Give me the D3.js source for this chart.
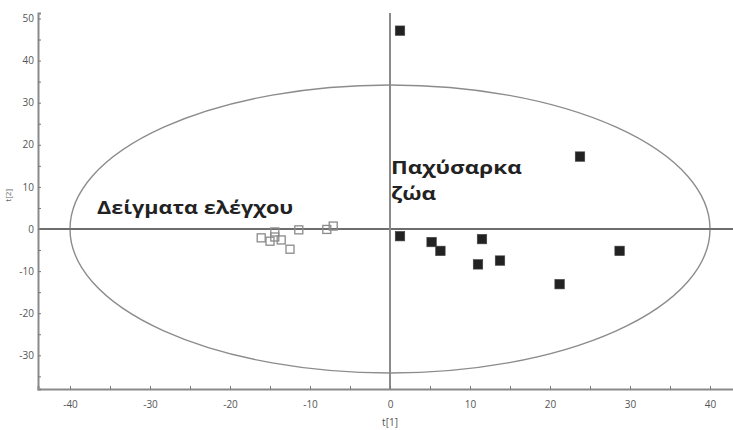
<!DOCTYPE html>
<html><head><meta charset="utf-8">
<script src="https://cdn.jsdelivr.net/npm/d3@7"></script>
<style>body{margin:0;background:#fff}svg{display:block}</style>
</head><body>
<svg id="c" width="733" height="430"></svg>
<script>
const controlX = [-16.1, -15.0, -14.4, -14.4, -13.6, -12.5, -11.4, -7.9, -7.1];
const controlY = [-2.1, -2.9, -0.7, -1.9, -2.6, -4.8, -0.2, -0.1, 0.7];
const obeseX = [1.25, 23.75, 1.25, 5.2, 6.3, 11.5, 11.0, 13.75, 21.2, 28.7];
const obeseY = [47.1, 17.2, -1.7, -3.1, -5.2, -2.4, -8.4, -7.5, -13.1, -5.2];
const xTicks = [-40, -30, -20, -10, 0, 10, 20, 30, 40];
const yTicks = [-30, -20, -10, 0, 10, 20, 30, 40, 50];
const ellipseRx = 40, ellipseRy = 34.2;
const labelControl = "Δείγματα ελέγχου";
const labelObese = ["Παχύσαρκα", "ζώα"];
const xTitle = "t[1]", yTitle = "t[2]";

const svg = d3.select("#c");
const x = d3.scaleLinear().domain([-44, 43]).range([38, 734]);
const y = d3.scaleLinear().domain([-38, 51.3]).range([389, 13]);
const axisCol = "#8a8a8a";

// ellipse
svg.append("ellipse")
  .attr("cx", x(0)).attr("cy", y(0))
  .attr("rx", x(ellipseRx) - x(0)).attr("ry", y(0) - y(ellipseRy))
  .attr("fill", "none").attr("stroke", "#8c8c8c").attr("stroke-width", 1.4);

// zero lines
svg.append("line").attr("x1", x(-44)).attr("x2", 733).attr("y1", y(0)).attr("y2", y(0))
  .attr("stroke", "#6e6e6e").attr("stroke-width", 2);
svg.append("line").attr("x1", x(0)).attr("x2", x(0)).attr("y1", y(51.3)).attr("y2", y(-38))
  .attr("stroke", "#8a8a8a").attr("stroke-width", 2);

// axes
const xMinor = d3.range(-40, 41, 5);
const yMinor = d3.range(-35, 51, 5);
const gx = svg.append("g").attr("transform", `translate(0,${y(-38)})`)
  .call(d3.axisBottom(x).tickValues(xMinor).tickSize(-3).tickPadding(12)
    .tickFormat(d => xTicks.includes(d) ? String(d) : ""));
const gy = svg.append("g").attr("transform", `translate(${x(-44)},0)`)
  .call(d3.axisLeft(y).tickValues(yMinor).tickSize(-3).tickPadding(4)
    .tickFormat(d => yTicks.includes(d) ? String(d) : ""));
[gx, gy].forEach(g => {
  g.select(".domain").attr("stroke", axisCol).attr("stroke-width", 2);
  g.selectAll(".tick line").attr("stroke", "#777");
  g.selectAll(".tick text").attr("fill", "#555").attr("font-family", "Open Sans, sans-serif").attr("font-size", 10);
});

svg.append("text").attr("x", x(0)).attr("y", 426).attr("text-anchor", "middle")
  .attr("font-family", "Open Sans, sans-serif").attr("font-size", 10).attr("fill", "#555").text(xTitle);
svg.append("text").attr("transform", `translate(11,${y(8)}) rotate(-90)`).attr("text-anchor", "middle")
  .attr("font-family", "Open Sans, sans-serif").attr("font-size", 8).attr("fill", "#666").text(yTitle);

// control samples (open squares)
const s1 = 8;
svg.append("g").selectAll("rect").data(controlX.map((d, i) => [d, controlY[i]])).join("rect")
  .attr("x", d => x(d[0]) - s1 / 2).attr("y", d => y(d[1]) - s1 / 2)
  .attr("width", s1).attr("height", s1)
  .attr("fill", "none").attr("stroke", "#8a8a8a").attr("stroke-width", 1.3);

// obese (filled squares)
const s2 = 9.5;
svg.append("g").selectAll("rect").data(obeseX.map((d, i) => [d, obeseY[i]])).join("rect")
  .attr("x", d => x(d[0]) - s2 / 2).attr("y", d => y(d[1]) - s2 / 2)
  .attr("width", s2).attr("height", s2)
  .attr("fill", "#222").attr("stroke", "#444").attr("stroke-width", 0.6);

// annotations
const tf = "Open Sans, sans-serif";
function label(txt, tx, ty, sx) {
  svg.append("text").attr("transform", `translate(${tx},${ty}) scale(${sx},1)`)
    .attr("font-family", tf).attr("font-weight", "bold")
    .attr("font-size", 18).attr("fill", "#222").text(txt);
}
label(labelControl, 97, 214, 1.2);
label(labelObese[0], 391, 174, 1.25);
label(labelObese[1], 391, 200, 1.25);
</script>
</body></html>
